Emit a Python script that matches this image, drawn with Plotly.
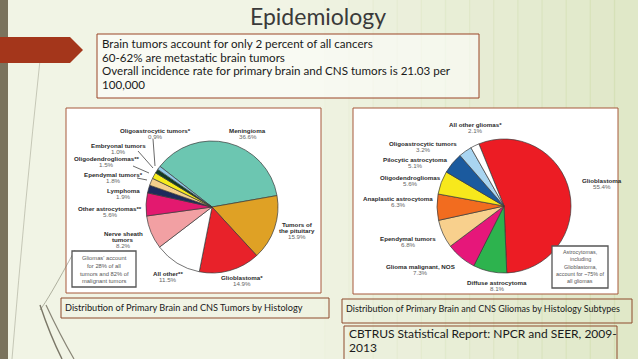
import plotly.graph_objects as go

W, H = 638, 359

# ---------------- data ----------------
title_text = "Epidemiology"
bullet_lines = [
    "Brain tumors account for only 2 percent of all cancers",
    "60-62% are metastatic brain tumors",
    "Overall incidence rate for primary brain and CNS tumors is 21.03 per",
    "100,000",
]
left_caption = "Distribution of Primary Brain and CNS Tumors by Histology"
right_caption = "Distribution of Primary Brain and CNS Gliomas by Histology Subtypes"
source_lines = ["CBTRUS Statistical Report: NPCR and SEER, 2009-", "2013"]

left_labels = ["Meningioma", "Tumors of|the pituitary", "Glioblastoma*", "All other**",
               "Nerve sheath|tumors", "Other astrocytomas**", "Lymphoma", "Ependymal tumors*",
               "Oligodendrogliomas**", "Embryonal tumors", "Oligoastrocytic tumors*"]
left_values = [36.6, 15.9, 14.9, 11.5, 8.2, 5.6, 1.9, 1.8, 1.5, 1.0, 0.9]
left_colors = ["#6cc6b1", "#dfa125", "#e8222a", "#ffffff", "#f2a0a3", "#e3196f",
               "#1d2a5c", "#f4cf8c", "#f6ec1c", "#113d22", "#90c9e8"]
left_note = ["Gliomas' account", "for 28% of all", "tumors and 82% of", "malignant tumors"]

right_labels = ["Glioblastoma", "Diffuse astrocytoma", "Glioma malignant, NOS", "Ependymal tumors",
                "Anaplastic astrocytoma", "Oligodendrogliomas", "Pilocytic astrocytoma",
                "Oligoastrocytic tumors", "All other gliomas*"]
right_values = [55.4, 8.1, 7.3, 6.8, 6.3, 5.6, 5.1, 3.2, 2.1]
right_colors = ["#ec1c24", "#2db34e", "#e6177a", "#f8d08d", "#f26c1f", "#f7e81c",
                "#1b5a9e", "#a9d5f1", "#ffffff"]
right_note = ["Astrocytomas,", "including", "Glioblastoma,", "account for ~75% of", "all gliomas"]

# label anchor positions (pixels, first line centre) for the pie labels
left_label_pos = [(248, 130), (297, 224), (242, 277), (168, 273), (123, 233), (110, 208),
                  (123, 190), (113, 174), (107, 158), (118, 145), (155, 130)]
right_label_pos = [(602, 180), (497, 282), (420, 266), (408, 238), (398, 198), (410, 177),
                   (415, 159), (423, 143), (475, 124)]


def X(px):
    return px / W


def Y(py):
    return 1 - py / H


fig = go.Figure()

shapes = []
annotations = []

# background gradient bands (right side greener)
bg_steps = 14
for i in range(bg_steps):
    x0 = 300 + i * (W - 300) / bg_steps
    x1 = 300 + (i + 1) * (W - 300) / bg_steps
    shapes.append(dict(type="rect", xref="paper", yref="paper", x0=X(x0), x1=X(x1) + 0.002,
                       y0=0, y1=1, line=dict(width=0),
                       fillcolor="rgba(200,215,160,%.3f)" % (0.03 * (i + 1)), layer="below"))

# left dark bar
shapes.append(dict(type="rect", xref="paper", yref="paper", x0=0, x1=X(8), y0=0, y1=1,
                   fillcolor="#7a735d", line=dict(width=0)))
# decorative thin lines
shapes.append(dict(type="path", xref="paper", yref="paper",
                   path="M %f %f Q %f %f %f %f" % (X(40), Y(60), X(25), Y(200), X(12), Y(359)),
                   line=dict(color="rgba(150,150,130,0.6)", width=0.8)))
shapes.append(dict(type="path", xref="paper", yref="paper",
                   path="M %f %f Q %f %f %f %f" % (X(75), Y(250), X(48), Y(300), X(40), Y(310)),
                   line=dict(color="rgba(120,120,100,0.7)", width=0.8)))
shapes.append(dict(type="path", xref="paper", yref="paper",
                   path="M %f %f Q %f %f %f %f" % (X(40), Y(305), X(50), Y(335), X(62), Y(359)),
                   line=dict(color="rgba(110,105,90,0.9)", width=1.4)))
shapes.append(dict(type="path", xref="paper", yref="paper",
                   path="M %f %f Q %f %f %f %f" % (X(46), Y(305), X(60), Y(335), X(74), Y(359)),
                   line=dict(color="rgba(110,105,90,0.8)", width=1.2)))

# red arrow
shapes.append(dict(type="path", xref="paper", yref="paper",
                   path="M 0 %f L %f %f L %f %f L %f %f L 0 %f Z" % (
                       Y(37), X(70), Y(37), X(83), Y(50), X(70), Y(63), Y(63)),
                   fillcolor="#a4361b", line=dict(width=0)))

# top text box
shapes.append(dict(type="rect", xref="paper", yref="paper", x0=X(97), x1=X(479), y0=Y(98), y1=Y(34),
                   fillcolor="rgba(255,255,255,0.55)", line=dict(color="#9a4427", width=1)))

# chart frames
shapes.append(dict(type="rect", xref="paper", yref="paper", x0=X(66), x1=X(321), y0=Y(293), y1=Y(108),
                   fillcolor="#ffffff", line=dict(color="#a6593a", width=1), layer="below"))
shapes.append(dict(type="rect", xref="paper", yref="paper", x0=X(353), x1=X(618), y0=Y(294), y1=Y(108),
                   fillcolor="#ffffff", line=dict(color="#a6593a", width=1), layer="below"))
# caption boxes
shapes.append(dict(type="rect", xref="paper", yref="paper", x0=X(61), x1=X(329), y0=Y(318), y1=Y(298),
                   line=dict(color="#8e4a2c", width=1)))
shapes.append(dict(type="rect", xref="paper", yref="paper", x0=X(342), x1=X(632), y0=Y(323), y1=Y(299),
                   line=dict(color="#8e4a2c", width=1)))
shapes.append(dict(type="rect", xref="paper", yref="paper", x0=X(344), x1=X(617), y0=Y(362), y1=Y(326),
                   line=dict(color="#8e4a2c", width=1)))

# note boxes inside charts
shapes.append(dict(type="rect", xref="paper", yref="paper", x0=X(72), x1=X(136), y0=Y(287), y1=Y(251),
                   fillcolor="#ffffff", line=dict(color="#555555", width=1.3)))
shapes.append(dict(type="rect", xref="paper", yref="paper", x0=X(552), x1=X(608), y0=Y(288), y1=Y(246),
                   fillcolor="#ffffff", line=dict(color="#555555", width=1.3)))

# leader lines (left pie)
for (x0, y0, x1, y1) in [(153, 139, 155, 166), (138, 151, 153, 168), (133, 166, 149, 173),
                         (137, 178, 147, 180)]:
    shapes.append(dict(type="line", xref="paper", yref="paper", x0=X(x0), y0=Y(y0), x1=X(x1), y1=Y(y1),
                       line=dict(color="#444444", width=0.8)))

# pies
fig.add_trace(go.Pie(values=left_values, labels=[l.replace("|", " ") for l in left_labels],
                     sort=False, direction="clockwise",
                     rotation=-52, marker=dict(colors=left_colors, line=dict(color="#3a3a3a", width=0.7)),
                     textinfo="none", hoverinfo="label+percent", showlegend=False,
                     domain=dict(x=[X(146), X(278)], y=[Y(273), Y(141)])))
fig.add_trace(go.Pie(values=right_values, labels=right_labels, sort=False, direction="clockwise",
                     rotation=-22, marker=dict(colors=right_colors, line=dict(color="#3a3a3a", width=0.7)),
                     textinfo="none", hoverinfo="label+percent", showlegend=False,
                     domain=dict(x=[X(437), X(571)], y=[Y(273), Y(139)])))


def txt(text, px, py, size, family="Lato", color="#1a1a1a", anchor="left"):
    return dict(text=text, x=X(px), y=Y(py), xref="paper", yref="paper", showarrow=False,
                xanchor=anchor, yanchor="middle", borderpad=0,
                font=dict(family=family, size=size, color=color))


# title
annotations.append(txt(title_text, 318, 16, 23, color="#3a3a3a", anchor="center"))
# bullet text
for i, line in enumerate(bullet_lines):
    annotations.append(txt(line, 101, 43.5 + i * 13.7, 11.6))
# captions
annotations.append(txt(left_caption, 64, 307, 9.2))
annotations.append(txt(right_caption, 345, 308, 9.0))
for i, line in enumerate(source_lines):
    annotations.append(txt(line, 348, 333 + i * 14, 12))


# pie labels (one annotation per line)
def pie_label(name, val, px, py):
    parts = name.split("|")
    out = []
    for j, p in enumerate(parts):
        out.append(txt("<b>%s</b>" % p, px, py + j * 6.6, 6.2, family="Liberation Sans",
                       color="#2a2a2a", anchor="center"))
    out.append(txt("%s%%" % val, px, py + len(parts) * 6.6 - 0.3, 6.2, family="Liberation Sans",
                   color="#666666", anchor="center"))
    return out


for name, val, (px, py) in zip(left_labels, left_values, left_label_pos):
    annotations.extend(pie_label(name, val, px, py))
for name, val, (px, py) in zip(right_labels, right_values, right_label_pos):
    annotations.extend(pie_label(name, val, px, py))

# note texts
for i, line in enumerate(left_note):
    annotations.append(txt(line, 104, 258 + i * 7.8, 5.8, family="Liberation Sans",
                           color="#555555", anchor="center"))
for i, line in enumerate(right_note):
    annotations.append(txt(line, 580, 252 + i * 7.3, 5.4, family="Liberation Sans",
                           color="#555555", anchor="center"))

fig.update_layout(width=W, height=H, autosize=False, margin=dict(l=0, r=0, t=0, b=0),
                  paper_bgcolor="#f1f4e5", plot_bgcolor="#f1f4e5",
                  shapes=shapes, annotations=annotations, showlegend=False)

fig.write_html("out.html", config={"displayModeBar": False},
               post_script="document.body.style.margin='0px';")
